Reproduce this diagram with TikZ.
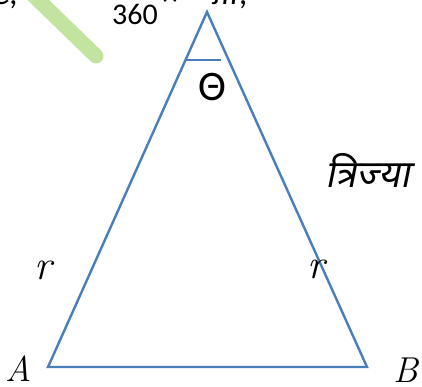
\documentclass[tikz,border=0pt]{standalone}
\usepackage{fontspec}
\newfontfamily\hindi[Script=Devanagari,FakeSlant=0.2]{Noto Sans}
\newfontfamily\carl{Carlito}
\definecolor{edge}{HTML}{4A7EBB}
\definecolor{marker}{HTML}{C3E3A0}
\begin{document}
\begin{tikzpicture}[x=1pt,y=-1pt,
  lbl/.style={inner sep=0pt,font=\fontsize{36}{38}\selectfont\itshape},
  side/.style={draw=edge,line width=2.4pt}]
\useasboundingbox (0,0) rectangle (422,387);
\begin{scope}
\clip (0,0) rectangle (422,387);
\draw[marker,line width=15pt,line cap=round] (30,-8) -- (96,56);
\node[inner sep=0pt,anchor=base,font=\fontsize{30}{32}\selectfont\carl] (n360) at (135,25) {360};
\node[inner sep=0pt,anchor=base,font=\fontsize{30}{32}\selectfont\carl] (times) at (170,6) {×};
\node[inner sep=0pt,anchor=base,font=\fontsize{34}{36}\selectfont\carl\itshape] (pir) at (230,5) {πr,};
\node[inner sep=0pt,anchor=base,font=\fontsize{34}{36}\selectfont\carl\itshape] (e) at (6,5) {e,};
\end{scope}
\coordinate (C) at (207,12);
\coordinate (A) at (48,367);
\coordinate (B) at (367,367);
\draw[side,line join=miter] (A) -- (C) -- (B) -- cycle;
\coordinate (h1) at (186,60);
\coordinate (h2) at (221,60);
\draw[draw=edge,line width=1.2pt] (h1) -- (h2);
\node[inner sep=0pt,anchor=base,font=\fontsize{42}{44}\selectfont\carl] (theta) at (212,101) {Θ};
\node[lbl,font=\fontsize{42}{44}\selectfont\itshape] (ra) at (43,270) {r};
\node[lbl,font=\fontsize{42}{44}\selectfont\itshape] (rb) at (316,269) {r};
\node[lbl] (la) at (19,369) {A};
\node[lbl] (lb) at (406,370) {B};
\node[inner sep=0pt,font=\fontsize{38}{40}\selectfont\hindi] (tr) at (368,170) {त्रिज्या};
\end{tikzpicture}
\end{document}
